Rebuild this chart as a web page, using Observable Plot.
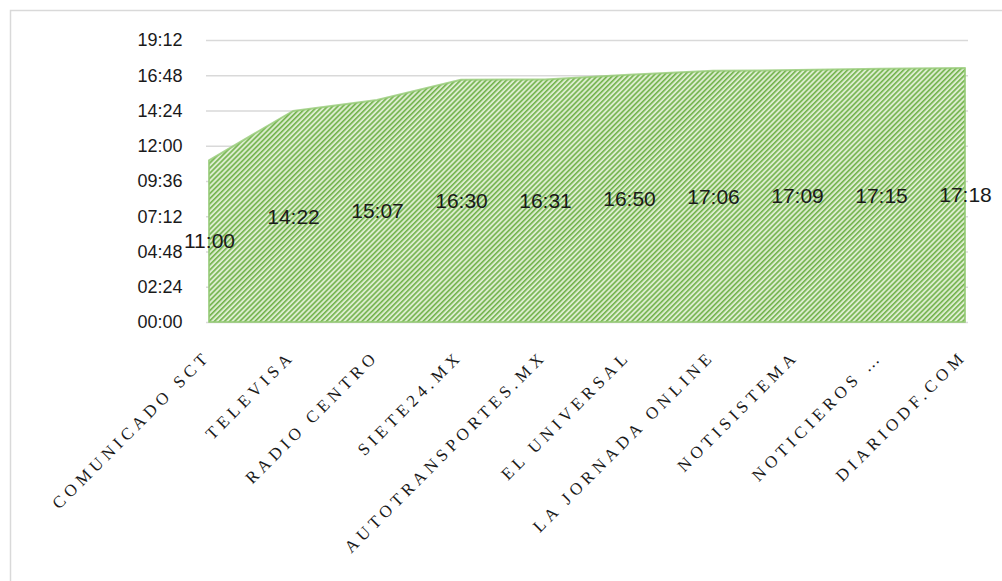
<!DOCTYPE html>
<html>
<head>
<meta charset="utf-8">
<script src="https://cdn.jsdelivr.net/npm/d3@7"></script>
<script src="https://cdn.jsdelivr.net/npm/@observablehq/plot@0.6"></script>
<style>
  html, body { margin: 0; padding: 0; background: #fff; }
  #chart { position: relative; width: 1002px; height: 581px; overflow: hidden; }
  #chart svg { position: absolute; left: 0; top: 0; }
</style>
</head>
<body>
<div id="chart"></div>
<script>
const categories = [
  "COMUNICADO SCT", "TELEVISA", "RADIO CENTRO", "SIETE24.MX", "AUTOTRANSPORTES.MX",
  "EL UNIVERSAL", "LA JORNADA ONLINE", "NOTISISTEMA", "NOTICIEROS …", "DIARIODF.COM"
];
const times = ["11:00", "14:22", "15:07", "16:30", "16:31", "16:50", "17:06", "17:09", "17:15", "17:18"];
const yTickLabels = ["00:00", "02:24", "04:48", "07:12", "09:36", "12:00", "14:24", "16:48", "19:12"];

const toMin = s => { const [h, m] = s.split(":").map(Number); return h * 60 + m; };
const data = categories.map((c, i) => ({cat: c, label: times[i], min: toMin(times[i])}));
const yTicks = yTickLabels.map(toMin);
const fmt = m => String(Math.floor(m / 60)).padStart(2, "0") + ":" + String(m % 60).padStart(2, "0");

const sans = "'Liberation Sans', Arial, sans-serif";
const serif = "'Liberation Serif', 'Times New Roman', serif";

const svg = Plot.plot({
  width: 1002,
  height: 581,
  marginLeft: 206,
  marginRight: 34,
  marginTop: 40,
  marginBottom: 259,
  style: {background: "transparent", overflow: "visible"},
  x: {type: "point", domain: categories, padding: 0, axis: null},
  y: {domain: [0, yTicks[yTicks.length - 1]], axis: null, label: null},
  marks: [
    Plot.gridY(yTicks, {stroke: "#d9d9d9", strokeOpacity: 1, strokeWidth: 1.5}),
    Plot.areaY(data, {x: "cat", y: "min", fill: "url(#hatch)", stroke: "#93c974", strokeWidth: 2, strokeOpacity: 0.8}),
    Plot.axisY(yTicks, {tickSize: 0, tickPadding: 24, tickFormat: fmt, fontSize: 18, fontFamily: sans, fill: "#1a1a1a", label: null}),
    Plot.text(categories, {x: d => d, y: 0, dy: 35, dx: 2, rotate: -45, textAnchor: "end", lineAnchor: "bottom",
      fontSize: 17, fontFamily: serif, fill: "#1a1a1a"}),
    Plot.text(data, {x: "cat", y: d => d.min / 2, text: "label", fontSize: 21, fontFamily: sans, fill: "#1a1a1a"})
  ]
});

// hatch pattern definition
const defs = d3.select(svg).insert("defs", ":first-child");
const pat = defs.append("pattern")
  .attr("id", "hatch").attr("patternUnits", "userSpaceOnUse")
  .attr("width", 3.6).attr("height", 3.6).attr("patternTransform", "rotate(45)");
pat.append("rect").attr("width", 3.6).attr("height", 3.6).attr("fill", "#dcedcf");
pat.append("rect").attr("width", 1.6).attr("height", 3.6).attr("fill", "#72b24c");

// chart border (extends past the window on right/bottom like the reference)
d3.select(svg).insert("rect", ":first-child")
  .attr("x", 10.5).attr("y", 10.5).attr("width", 1000).attr("height", 600)
  .attr("fill", "none").attr("stroke", "#d9d9d9").attr("stroke-width", 1.5);

// letter spacing for the category labels (first text mark group)
d3.select(svg).selectAll("g[aria-label='text']").filter((d, i) => i === 0).attr("letter-spacing", "4.5px");

document.getElementById("chart").appendChild(svg);
</script>
</body>
</html>
